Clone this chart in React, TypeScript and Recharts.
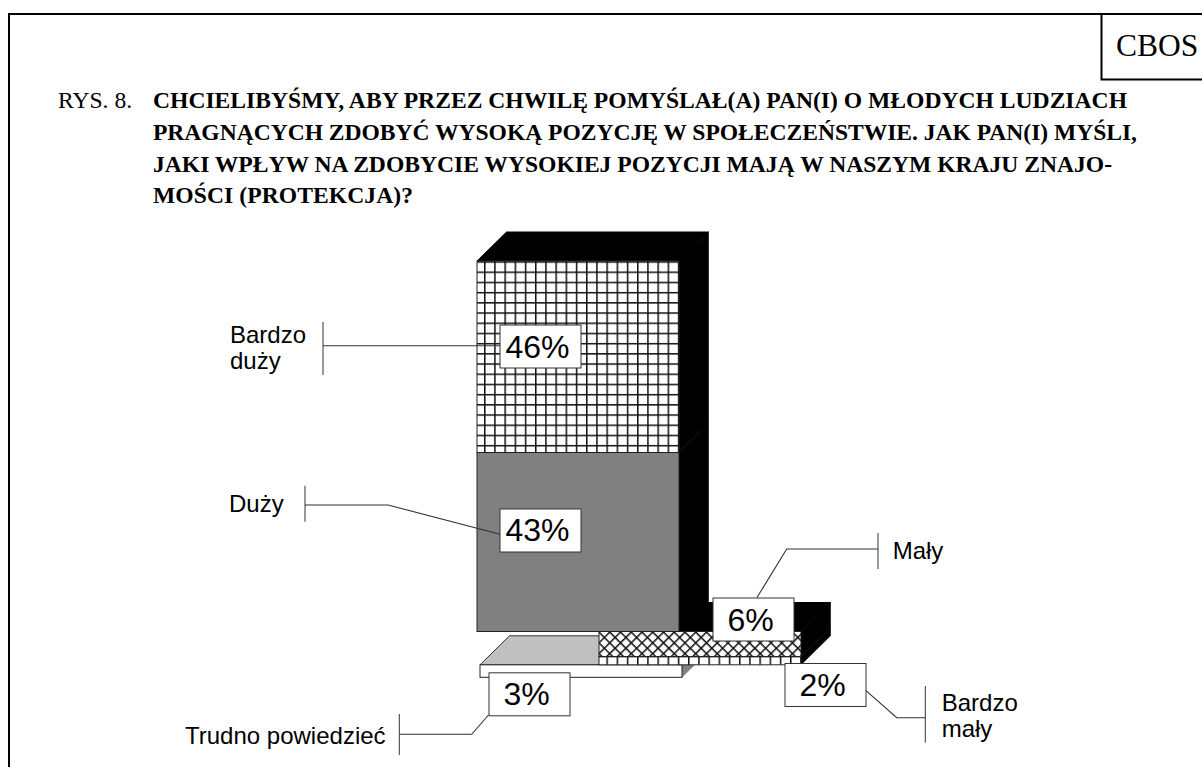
import React from 'react'
import { Bar, BarChart, XAxis, YAxis } from 'recharts'

const categories = [
  'Trudno powiedzieć',
  'Bardzo mały',
  'Mały',
  'Duży',
  'Bardzo duży'
]
const shares = [3, 2, 6, 43, 46]
const percentLabels = ['3%', '2%', '6%', '43%', '46%']

const titleLines = [
  'CHCIELIBYŚMY, ABY PRZEZ CHWILĘ POMYŚLAŁ(A) PAN(I) O MŁODYCH LUDZIACH',
  'PRAGNĄCYCH ZDOBYĆ WYSOKĄ POZYCJĘ W SPOŁECZEŃSTWIE. JAK PAN(I) MYŚLI,',
  'JAKI WPŁYW NA ZDOBYCIE WYSOKIEJ POZYCJI MAJĄ W NASZYM KRAJU ZNAJO-',
  'MOŚCI (PROTEKCJA)?'
]
const titleWidths = [974, 984, 959, 260]

const row: Record<string, string | number> = { group: 'wpływ' }
categories.forEach((c, i) => {
  row[c] = shares[i]
})
row.midBase = shares[0]
row.tallBase = shares[0] + shares[1] + shares[2]
const chartData = [row]

const DX = 29.5
const DY = 29

const SERIF = '"Liberation Serif", serif'
const SANS = '"Liberation Sans", sans-serif'

function Block(props: any) {
  const { x, y, width, height, face, side, top, showTop } = props
  const r = x + width
  const b = y + height
  return (
    <g>
      {showTop && (
        <polygon
          points={`${x},${y} ${x + DX},${y - DY} ${r + DX},${y - DY} ${r},${y}`}
          fill={top}
          stroke={top === '#000000' ? '#000' : '#333'}
          strokeWidth={1}
        />
      )}
      <polygon
        points={`${r},${y} ${r + DX},${y - DY} ${r + DX},${b - DY} ${r},${b}`}
        fill={side}
        stroke={side}
        strokeWidth={0.6}
      />
      <rect
        x={x}
        y={y}
        width={width}
        height={height}
        fill={face}
        stroke="#222"
        strokeWidth={1}
      />
    </g>
  )
}

// the leader is drawn with the label so that it lies on top of the bars
function boxLabel(text: string, dx: number, dy: number, leader: string) {
  return (p: any) => {
    const left = p.x + dx
    const top = p.y + dy
    return (
      <g>
        <polyline points={leader} fill="none" stroke="#333" strokeWidth={1.1} />
        <rect
          x={left}
          y={top}
          width={81}
          height={43}
          fill="#fff"
          stroke="#333"
          strokeWidth={1}
        />
        <text
          x={left + 37.5}
          y={top + 32.5}
          textAnchor="middle"
          fontFamily={SANS}
          fontSize={32}
          fill="#000"
        >
          {text}
        </text>
      </g>
    )
  }
}

function Callout({
  lines,
  textX,
  baselines,
  bar
}: {
  lines: string[]
  textX: number
  baselines: number[]
  bar: [number, number, number]
}) {
  return (
    <g>
      {lines.map((t, i) => (
        <text
          key={t}
          x={textX}
          y={baselines[i]}
          fontFamily={SANS}
          fontSize={24}
          fill="#000"
        >
          {t}
        </text>
      ))}
      <line
        x1={bar[0]}
        x2={bar[0]}
        y1={bar[1]}
        y2={bar[2]}
        stroke="#333"
        strokeWidth={1}
      />
    </g>
  )
}

export default function App() {
  return (
    <div
      style={{
        position: 'absolute',
        left: 0,
        top: 0,
        width: 1202,
        height: 767,
        overflow: 'hidden',
        background: '#fff'
      }}
    >
      <BarChart
        width={1202}
        height={767}
        data={chartData}
        margin={{ top: 261, right: 400, bottom: 89.7, left: 477 }}
        barCategoryGap={0}
        barGap={0}
      >
        <defs>
          <pattern
            id="gridTall"
            patternUnits="userSpaceOnUse"
            x={484}
            y={271.5}
            width={10.2}
            height={10.2}
          >
            <rect width={10.2} height={10.2} fill="#fff" />
            <rect width={1.5} height={10.2} fill="#111" />
            <rect width={10.2} height={1.5} fill="#111" />
          </pattern>
          <pattern
            id="gridLow"
            patternUnits="userSpaceOnUse"
            x={484}
            y={655.7}
            width={10.2}
            height={10.2}
          >
            <rect width={10.2} height={10.2} fill="#fff" />
            <rect width={1.5} height={10.2} fill="#111" />
            <rect width={10.2} height={1.5} fill="#111" />
          </pattern>
          <pattern
            id="crossHatch"
            patternUnits="userSpaceOnUse"
            width={7.6}
            height={7.6}
            patternTransform="translate(599 631) rotate(45)"
          >
            <rect width={7.6} height={7.6} fill="#fff" />
            <rect width={1.5} height={7.6} fill="#111" />
            <rect width={7.6} height={1.5} fill="#111" />
          </pattern>
        </defs>

        <rect x={9} y={14} width={1300} height={900} fill="none" stroke="#000" strokeWidth={2} />
        <rect x={1101.5} y={14} width={200} height={65.5} fill="none" stroke="#000" strokeWidth={2} />
        <text x={1116} y={56} fontFamily={SERIF} fontSize={31.5} fill="#000">
          CBOS
        </text>
        <text x={58} y={108} fontFamily={SERIF} fontSize={23.6} fill="#000">
          RYS. 8.
        </text>
        {titleLines.map((line, i) => (
          <text
            key={line}
            x={153}
            y={108 + i * 31.8}
            textLength={titleWidths[i]}
            fontFamily={SERIF}
            fontSize={23.6}
            fontWeight="bold"
            fill="#000"
          >
            {line}
          </text>
        ))}

        <XAxis xAxisId="front" dataKey="group" hide padding={{ left: 3, right: 120.3 }} />
        <XAxis xAxisId="mid" dataKey="group" hide padding={{ left: 122, right: 1 }} />
        <XAxis xAxisId="tall" dataKey="group" hide padding={{ left: 0, right: 123 }} />
        <YAxis hide domain={[0, 100]} />

        <Bar
          xAxisId="front"
          stackId="front"
          dataKey={categories[0]}
          isAnimationActive={false}
          shape={(p: any) => (
            <Block {...p} face="#fff" side="#808080" top="#c0c0c0" showTop />
          )}
          label={boxLabel(percentLabels[0], 9, 8, '399.3,734.3 471.7,734.3 488.5,715')}
        />

        <Bar
          xAxisId="mid"
          stackId="mid"
          dataKey="midBase"
          fill="none"
          isAnimationActive={false}
        />
        <Bar
          xAxisId="mid"
          stackId="mid"
          dataKey={categories[1]}
          isAnimationActive={false}
          shape={(p: any) => <Block {...p} face="url(#gridLow)" side="#000" />}
          label={boxLabel(percentLabels[1], 186, 7, '925.3,717.7 896.7,717.7 866,690.7')}
        />
        <Bar
          xAxisId="mid"
          stackId="mid"
          dataKey={categories[2]}
          isAnimationActive={false}
          shape={(p: any) => (
            <Block {...p} face="url(#crossHatch)" side="#000" top="#000000" showTop />
          )}
          label={boxLabel(percentLabels[2], 114, -33.5, '878,549 786.7,549 757,597.5')}
        />

        <Bar
          xAxisId="tall"
          stackId="tall"
          dataKey="tallBase"
          fill="none"
          isAnimationActive={false}
        />
        <Bar
          xAxisId="tall"
          stackId="tall"
          dataKey={categories[3]}
          isAnimationActive={false}
          shape={(p: any) => <Block {...p} face="#808080" side="#000" />}
          label={boxLabel(percentLabels[3], 23, 56.5, '305,505 388,505 500,534.3')}
        />
        <Bar
          xAxisId="tall"
          stackId="tall"
          dataKey={categories[4]}
          isAnimationActive={false}
          shape={(p: any) => (
            <Block {...p} face="url(#gridTall)" side="#000" top="#000000" showTop />
          )}
          label={boxLabel(percentLabels[4], 23, 64, '323,345.7 500,345.7')}
        />

        <Callout
          lines={['Bardzo', 'duży']}
          textX={230}
          baselines={[342.7, 368.7]}
          bar={[323, 322, 375]}
        />
        <Callout
          lines={['Duży']}
          textX={229}
          baselines={[511.7]}
          bar={[305, 485.7, 521.7]}
        />
        <Callout
          lines={['Mały']}
          textX={892.7}
          baselines={[559]}
          bar={[878, 533, 569]}
        />
        <Callout
          lines={['Bardzo', 'mały']}
          textX={941.7}
          baselines={[710.7, 736.7]}
          bar={[925.3, 686, 742.7]}
        />
        <Callout
          lines={['Trudno powiedzieć']}
          textX={185}
          baselines={[744.3]}
          bar={[399.3, 714, 755]}
        />
      </BarChart>
    </div>
  )
}
